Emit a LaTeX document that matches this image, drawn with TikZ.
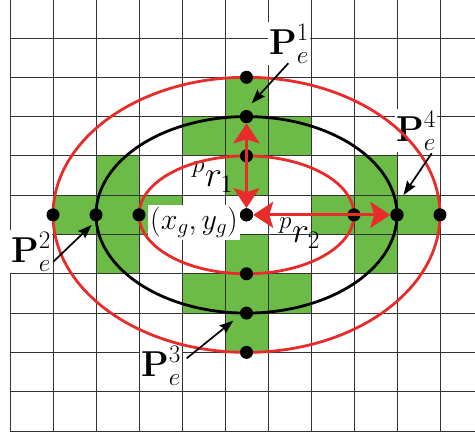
\documentclass[tikz,border=0pt]{standalone}
\usepackage{fix-cm}
\usetikzlibrary{arrows.meta}
\definecolor{cellgreen}{RGB}{107,187,70}
\definecolor{ered}{RGB}{232,43,43}
\begin{document}
\begin{tikzpicture}[x=43pt,y=39.3pt,
  gridline/.style={line width=0.9pt, draw=black!80},
  ell/.style={line width=2.8pt},
  dot/.style={circle, fill=black, inner sep=0pt, minimum size=13pt},
  lbl/.style={fill=white, inner sep=1.5pt, anchor=base west, font=\fontsize{36}{40}\selectfont},
  plbl/.style={inner sep=0pt, anchor=base west, font=\fontsize{36}{40}\selectfont},
  pointer/.style={-{Stealth[length=14pt,width=10pt,inset=2pt]}, line width=1.7pt},
  radarrow/.style={{Stealth[length=20pt,width=26pt,inset=4pt]}-{Stealth[length=20pt,width=26pt,inset=4pt]}, draw=ered, line width=3pt}
]
\useasboundingbox (-10pt,-3pt) rectangle (465pt,431pt);
% green cells
\foreach \i/\k in {5/8,5/7,5/6,4/7,6/7,5/4,5/3,5/2,4/3,6/3,1/5,2/5,3/5,2/4,2/6,7/5,8/5,9/5,8/4,8/6}
  \fill[cellgreen] (\i,\k) rectangle ++(1,1);
% grid
\foreach \i in {0,...,10} \draw[gridline] (\i,0) -- (\i,10.967);
\foreach \k in {0,...,10} \draw[gridline] (0,\k) -- (10.814,\k);
% labels
\node[lbl] (L1) at (257.5pt,376pt) {$\displaystyle\mathbf{P}_e^1$};
\node[lbl] (L4) at (384.5pt,289pt) {$\displaystyle\mathbf{P}_e^4$};
\node[lbl] (L2) at (-0.5pt,168pt) {$\displaystyle\mathbf{P}_e^2$};
\node[lbl] (L3) at (129.5pt,54pt) {$\displaystyle\mathbf{P}_e^3$};
\node[fill=white, inner sep=2pt, anchor=base west, font=\fontsize{30}{34}\selectfont] (G) at (138pt,201.5pt) {$(x_g,y_g)$};
\node[plbl] (R1) at (182pt,244pt) {$\displaystyle{}^{p}r_{1}$};
\node[plbl] (R2) at (269pt,188pt) {$\displaystyle{}^{p}r_{2}$};
% ellipses
\draw[ered, ell] (5.5,5.5) ellipse [x radius=107.5pt, y radius=58.95pt];
\draw[black, ell] (5.5,5.5) ellipse [x radius=150.5pt, y radius=98.25pt];
\draw[ered, ell] (5.5,5.5) ellipse [x radius=193.5pt, y radius=137.55pt];
% dots
\node[dot] (c) at (5.5,5.5) {};
\node[dot] (h1) at (3,5.5) {};
\node[dot] (h2) at (2,5.5) {};
\node[dot] (h3) at (1,5.5) {};
\node[dot] (h4) at (8,5.5) {};
\node[dot] (h5) at (9,5.5) {};
\node[dot] (h6) at (10,5.5) {};
\node[dot] (v1) at (5.5,7) {};
\node[dot] (v2) at (5.5,8) {};
\node[dot] (v3) at (5.5,9) {};
\node[dot] (v4) at (5.5,4) {};
\node[dot] (v5) at (5.5,3) {};
\node[dot] (v6) at (5.5,2) {};
% radius arrows
\draw[radarrow] (c) -- (v2);
\draw[radarrow] (c) -- (h5);
% pointers
\coordinate (s1) at (278.3pt,367.7pt); \coordinate (t1) at (241.7pt,327.7pt);
\coordinate (s4) at (421.7pt,277.7pt); \coordinate (t4) at (393.5pt,236pt);
\coordinate (s2) at (43.3pt,169.3pt);  \coordinate (t2) at (81.7pt,206pt);
\coordinate (s3) at (176.7pt,72.7pt);  \coordinate (t3) at (223.3pt,110.3pt);
\draw[pointer] (s1) -- (t1);
\draw[pointer] (s4) -- (t4);
\draw[pointer] (s2) -- (t2);
\draw[pointer] (s3) -- (t3);
% redraw dots on top of arrows
\foreach \n in {c,v2,h5} \fill (\n) circle (6.5pt);
\end{tikzpicture}
\end{document}
